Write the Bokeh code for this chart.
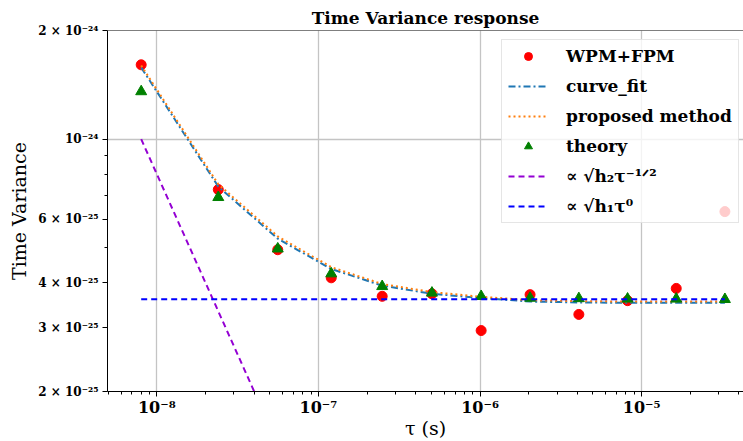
from bokeh.plotting import figure
from bokeh.models import (FixedTicker, Legend, LegendItem, Span, Range1d,
                          CustomJSTickFormatter)
from bokeh.embed import file_html
from bokeh.resources import INLINE

# ---- data ----
tau = [8.0e-9, 2.4e-8, 5.6e-8, 1.2e-7, 2.48e-7, 5.04e-7, 1.016e-6,
       2.04e-6, 4.088e-6, 8.184e-6, 1.6376e-5, 3.276e-5]
measured = [1.607e-24, 7.25e-25, 4.94e-25, 4.13e-25, 3.67e-25, 3.73e-25,
            2.95e-25, 3.71e-25, 3.27e-25, 3.57e-25, 3.86e-25, 6.3e-25]
curve_fit = [1.58e-24, 7.39e-25, 5.30e-25, 4.37e-25, 3.93e-25, 3.73e-25,
             3.63e-25, 3.55e-25, 3.53e-25, 3.52e-25, 3.52e-25, 3.52e-25]
proposed = [1.60e-24, 7.50e-25, 5.38e-25, 4.42e-25, 3.97e-25, 3.77e-25,
            3.66e-25, 3.58e-25, 3.56e-25, 3.55e-25, 3.55e-25, 3.55e-25]
theory = [1.355e-24, 6.90e-25, 4.97e-25, 4.24e-25, 3.91e-25, 3.75e-25,
          3.67e-25, 3.63e-25, 3.62e-25, 3.61e-25, 3.61e-25, 3.60e-25]
h2_tau = [8.0e-9, 4.4e-8]
h2_line = [1.0e-24, 1.82e-25]
h1_tau = [8.0e-9, 3.276e-5]
h1_line = [3.6e-25, 3.6e-25]

labels = ["WPM+FPM", "curve_fit", "proposed method", "theory",
          "\u221d \u221ah\u2082\u03c4\u207b\u00b9\u141f\u00b2",
          "\u221d \u221ah\u2081\u03c4\u2070"]

x_major = [1e-8, 1e-7, 1e-6, 1e-5]
x_minor = ([m * 1e-9 for m in range(5, 10)] +
           [m * 10.0 ** e for e in (-8, -7, -6) for m in range(2, 10)] +
           [m * 1e-5 for m in range(2, 5)])
y_major = [2e-25, 3e-25, 4e-25, 6e-25, 1e-24, 2e-24]
y_minor = [5e-25, 7e-25, 8e-25, 9e-25]

SERIF = "DejaVu Serif"

p = figure(x_axis_type="log", y_axis_type="log",
           x_range=Range1d(4.95e-9, 4.27e-5), y_range=Range1d(2e-25, 2e-24),
           frame_width=636, frame_height=361,
           min_border_left=107, min_border_right=0,
           min_border_top=30, min_border_bottom=48,
           output_backend="svg", toolbar_location=None,
           title="Time Variance response")
p.outline_line_color = None
p.background_fill_color = "white"

p.title.text_font = SERIF
p.title.text_font_style = "bold"
p.title.text_font_size = "17px"
p.title.text_color = "black"
p.title.align = "center"
p.title.offset = 6
p.title.standoff = 6

fmt = CustomJSTickFormatter(code="""
const e = Math.floor(Math.log10(tick) + 1e-9);
const m = Math.round(tick / Math.pow(10, e));
const sup = {'-':'\u207b','0':'\u2070','1':'\u00b9','2':'\u00b2','3':'\u00b3',
             '4':'\u2074','5':'\u2075','6':'\u2076','7':'\u2077','8':'\u2078','9':'\u2079'};
const es = String(e).split('').map(c => sup[c]).join('');
return m == 1 ? '10' + es : m + ' \u00d7 10' + es;
""")

for ax in (p.xaxis[0], p.yaxis[0]):
    ax.formatter = fmt
    ax.major_label_text_font = SERIF
    ax.major_label_text_font_style = "bold"
    ax.major_label_text_color = "black"
    ax.axis_label_text_font = SERIF
    ax.axis_label_text_font_style = "normal"
    ax.axis_label_text_font_size = "19px"
    ax.axis_label_text_color = "black"
    ax.major_tick_in = 0
    ax.minor_tick_in = 0
    ax.major_tick_out = 5
    ax.minor_tick_out = 3
    ax.axis_line_color = "black"
    ax.major_tick_line_color = "black"
    ax.minor_tick_line_color = "black"

p.xaxis.ticker = FixedTicker(ticks=x_major, minor_ticks=x_minor)
p.yaxis.ticker = FixedTicker(ticks=y_major, minor_ticks=y_minor)
p.xaxis.major_label_text_font_size = "16px"
p.yaxis.major_label_text_font_size = "12px"
p.xaxis.major_label_standoff = 1
p.xaxis.axis_label_standoff = -3
p.yaxis.major_label_standoff = 4
p.yaxis.axis_label_standoff = 5
p.xaxis.axis_label = "\u03c4 (s)"
p.yaxis.axis_label = "Time Variance"

p.xgrid.ticker = FixedTicker(ticks=x_major)
p.ygrid.ticker = FixedTicker(ticks=[1e-24])
for g in (p.xgrid[0], p.ygrid[0]):
    g.grid_line_color = "#c4c4c4"
    g.grid_line_width = 1.3

p.add_layout(Span(location=2e-24, dimension="width", line_color="black",
                  line_width=1))

r_meas = p.scatter(tau, measured, marker="circle", size=10,
                   fill_color="red", line_color="red")
r_fit = p.line(tau, curve_fit, line_color="#1f77b4", line_width=2,
               line_dash="7 3 2 3")
r_prop = p.line(tau, proposed, line_color="#ff7f0e", line_width=2,
                line_dash="2 3")
r_th = p.scatter(tau, theory, marker="triangle", size=11,
                 fill_color="green", line_color="green")
r_h2 = p.line(h2_tau, h2_line, line_color="#9400d3", line_width=2,
              line_dash="6 4")
r_h1 = p.line(h1_tau, h1_line, line_color="blue", line_width=2,
              line_dash="6 4")

legend = Legend(items=[LegendItem(label=labels[0], renderers=[r_meas]),
                       LegendItem(label=labels[1], renderers=[r_fit]),
                       LegendItem(label=labels[2], renderers=[r_prop]),
                       LegendItem(label=labels[3], renderers=[r_th]),
                       LegendItem(label=labels[4], renderers=[r_h2]),
                       LegendItem(label=labels[5], renderers=[r_h1])],
                location=(394, 168))
legend.label_text_font = SERIF
legend.label_text_font_style = "bold"
legend.label_text_font_size = "17px"
legend.label_text_color = "black"
legend.glyph_width = 40
legend.glyph_height = 20
legend.label_height = 20
legend.label_standoff = 18
legend.spacing = 10
legend.padding = 6
legend.margin = 0
legend.border_line_color = "#cccccc"
legend.background_fill_alpha = 0.8
p.add_layout(legend)

open("out.html", "w").write(file_html(p, INLINE))
